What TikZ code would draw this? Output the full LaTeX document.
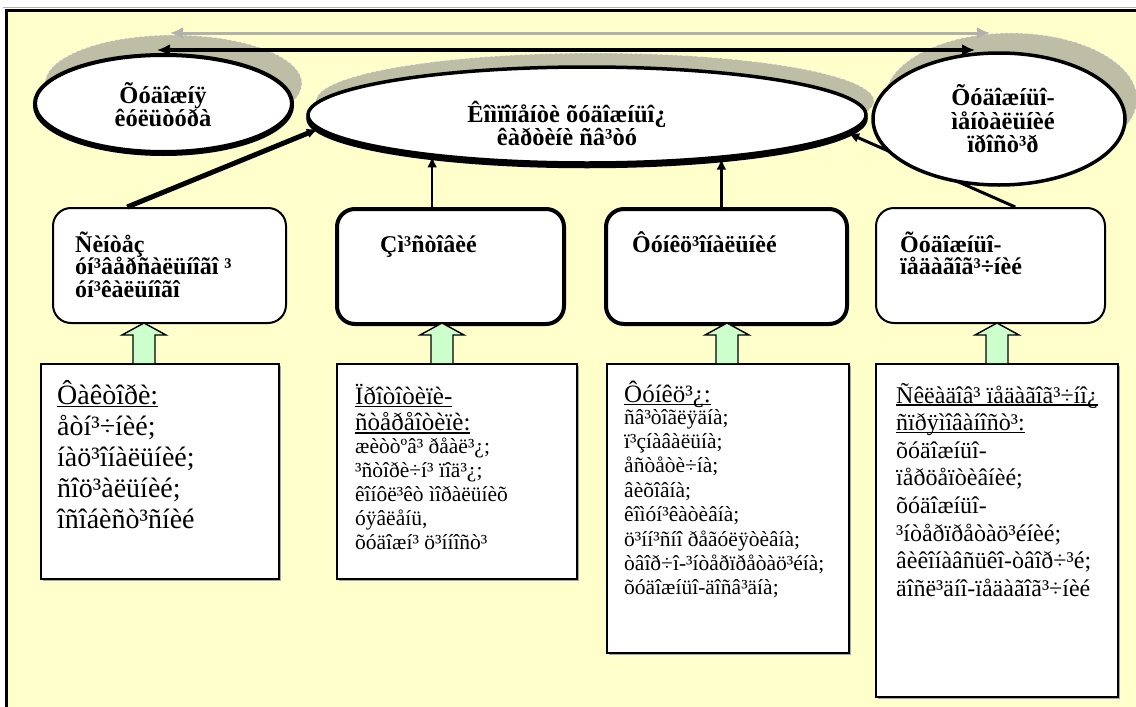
\documentclass[tikz,border=0pt]{standalone}
\usepackage{fontspec}
\setmainfont{Liberation Serif}
\usetikzlibrary{shapes.geometric,arrows.meta,calc,shadows}
\definecolor{bgyel}{RGB}{255,255,204}
\definecolor{shad}{RGB}{190,190,166}
\definecolor{garr}{RGB}{178,178,172}
\definecolor{lgreen}{RGB}{204,255,204}
\newcommand\myul[1]{\leavevmode\setbox0=\hbox{#1}\rlap{\rule[-0.12em]{\wd0}{0.06em}}\box0}
\newcommand\boxlines[6]{\foreach \t [count=\i] in {#6}{\node[anchor=base west,inner sep=0pt,font=#5] (#1\i) at (#2,{#3+(\i-1)*#4}) {\t};}}
\newcommand\garrow[1]{\draw[fill=lgreen,line width=1.4pt] (#1-11,363) -- (#1-11,335) -- (#1-22,335) -- (#1,323) -- (#1+22,335) -- (#1+11,335) -- (#1+11,363);}
\begin{document}
\begin{tikzpicture}[x=1pt,y=-1pt,
  eshadow/.style={ellipse,fill=shad,draw=white!85!shad,dash pattern=on 3pt off 2pt,line width=0.7pt,inner sep=0pt},
  ell/.style={ellipse,draw=black,fill=white,inner sep=0pt},
  etext/.style={align=center,inner sep=0pt,font=\fontsize{24.5}{23.5}\selectfont\bfseries},
  rbox/.style={rectangle,rounded corners=18pt,draw=black,fill=white,line width=2pt,anchor=north west,inner sep=0pt},
  rboxthick/.style={rbox,line width=4pt},
  lbox/.style={rectangle,draw=black,fill=white,line width=2pt,anchor=north west,inner sep=0pt,
     drop shadow={shadow xshift=2pt,shadow yshift=-2pt,fill=gray!70,opacity=1}},
  tip/.style={-{Latex[length=11pt,width=10pt]}},
  dtip/.style={{Latex[length=13pt,width=12pt]}-{Latex[length=13pt,width=12pt]}},
  bfont/.style={font=\fontsize{24}{23}\selectfont\bfseries}
]
\useasboundingbox (0,0) rectangle (1136,707);
\fill[white] (0,0) rectangle (1136,707);
\fill[bgyel] (6,10) rectangle (1136,707);
\draw[gray!60,line width=1pt] (3,7) -- (1136,7);
\draw[line width=3.5pt] (6.5,707) -- (6.5,10.5) -- (1136,10.5);

% ellipse shadows
\node[eshadow,minimum width=257pt,minimum height=97pt] (sL) at (173.5,83.5) {};
\node[eshadow,minimum width=558pt,minimum height=96pt] (sC) at (595,101) {};
\node[eshadow,minimum width=252pt,minimum height=132pt] (sR) at (1011,99) {};

% grey double arrow
\coordinate (gl) at (170,33);
\coordinate (gr) at (990,33);
\draw[garr,line width=3pt,dtip] (gl) -- (gr);

% rounded boxes
\node[rbox,minimum width=233pt,minimum height=115pt] (bA) at (52,207) {};
\node[rboxthick,minimum width=227pt,minimum height=115pt] (bB) at (335,207) {};
\node[rboxthick,minimum width=241pt,minimum height=115pt] (bC) at (604,207) {};
\node[rbox,minimum width=229pt,minimum height=115pt] (bD) at (875,207) {};

% lower boxes
\node[lbox,minimum width=238pt,minimum height=215pt] (lA) at (40,363) {};
\node[lbox,minimum width=240pt,minimum height=215pt] (lB) at (336,363) {};
\node[lbox,minimum width=242pt,minimum height=289pt] (lC) at (606,363) {};
\node[lbox,minimum width=242pt,minimum height=333pt] (lD) at (875,363) {};

% green block arrows
\garrow{144}
\garrow{442}
\garrow{727}
\garrow{997}

% ellipses (thicker lower rim)
\node[ell,fill=black,line width=4pt,minimum width=257pt,minimum height=97pt] (Lb) at (163.5,105.5) {};
\node[ell,line width=4pt,minimum width=257pt,minimum height=97pt] (L) at (163.5,103.5) {};
\node[ell,fill=black,line width=3.5pt,minimum width=558pt,minimum height=96pt] (Cb) at (587,118.5) {};
\node[ell,line width=3.5pt,minimum width=558pt,minimum height=96pt] (C) at (587,115) {};

% connectors to the central ellipse
\draw[line width=5pt,tip] ($(bA.north west)!0.32!(bA.north east)$) -- (C.183);
\draw[line width=2.5pt,tip] (bB.north -| C.195) -- (C.195);
\draw[line width=2.5pt,tip] (bC.north -| C.342) -- (C.342);
\draw[line width=3pt,tip] ($(bD.north west)!0.607!(bD.north east)$) -- (C.356);

\node[ell,line width=3.5pt,minimum width=252pt,minimum height=132pt] (R) at (999,119) {};

% black double arrow
\coordinate (bl) at (157,50);
\coordinate (br) at (975,50);
\draw[line width=4pt,dtip] (bl) -- (br);

% ellipse texts
\node[etext] (Lt) at (163,104.5) {Õóäîæíÿ\\êóëüòóðà};
\node[etext] (Ct) at (567,123.5) {Êîìïîíåíòè õóäîæíüî¿\\êàðòèíè ñâ³òó};
\node[etext] (Rt) at (1003,119) {Õóäîæíüî-\\ìåíòàëüíèé\\ïðîñò³ð};

% rounded box texts
\boxlines{tA}{75}{252}{22.5}{\fontsize{24}{22.5}\selectfont\bfseries}{Ñèíòåç,óí³âåðñàëüíîãî ³,óí³êàëüíîãî}
\boxlines{tB}{380}{252}{22.5}{\fontsize{24}{22.5}\selectfont\bfseries}{Çì³ñòîâèé}
\boxlines{tC}{632}{252}{22.5}{\fontsize{24}{22.5}\selectfont\bfseries}{Ôóíêö³îíàëüíèé}
\boxlines{tD}{900}{252}{22.5}{\fontsize{24}{22.5}\selectfont\bfseries}{Õóäîæíüî-,ïåäàãîã³÷íèé}

% lower box texts
\boxlines{pA}{57}{404}{31}{\fontsize{28}{32}\selectfont}{\myul{Ôàêòîðè:},åòí³÷íèé;,íàö³îíàëüíèé;,ñîö³àëüíèé;,îñîáèñò³ñíèé}
\boxlines{hB}{355}{404}{26.5}{\fontsize{25}{27}\selectfont}{\myul{Ïðîòîòèïè-},\myul{ñòåðåîòèïè:}}
\boxlines{pB}{355}{453}{24}{\fontsize{21.5}{24}\selectfont}{æèòòºâ³ ðåàë³¿;,³ñòîðè÷í³ ïîä³¿;,êîíôë³êò ìîðàëüíèõ,{óÿâëåíü,},õóäîæí³ ö³ííîñò³}
\boxlines{hC}{624}{402}{26.5}{\fontsize{25}{27}\selectfont}{\myul{Ôóíêö³¿:}}
\boxlines{pC}{624}{424}{24.4}{\fontsize{21.5}{24}\selectfont}{ñâ³òîãëÿäíà;,ï³çíàâàëüíà;,åñòåòè÷íà;,âèõîâíà;,êîìóí³êàòèâíà;,ö³íí³ñíî ðåãóëÿòèâíà;,òâîð÷î-³íòåðïðåòàö³éíà;,õóäîæíüî-äîñâ³äíà;}
\boxlines{pD}{896}{403}{27.6}{\fontsize{24}{27.6}\selectfont}{\myul{Ñêëàäîâ³ ïåäàãîã³÷íî¿},\myul{ñïðÿìîâàíîñò³:},õóäîæíüî-,ïåðöåïòèâíèé;,õóäîæíüî-,³íòåðïðåòàö³éíèé;,âèêîíàâñüêî-òâîð÷³é;,äîñë³äíî-ïåäàãîã³÷íèé}
\end{tikzpicture}
\end{document}
